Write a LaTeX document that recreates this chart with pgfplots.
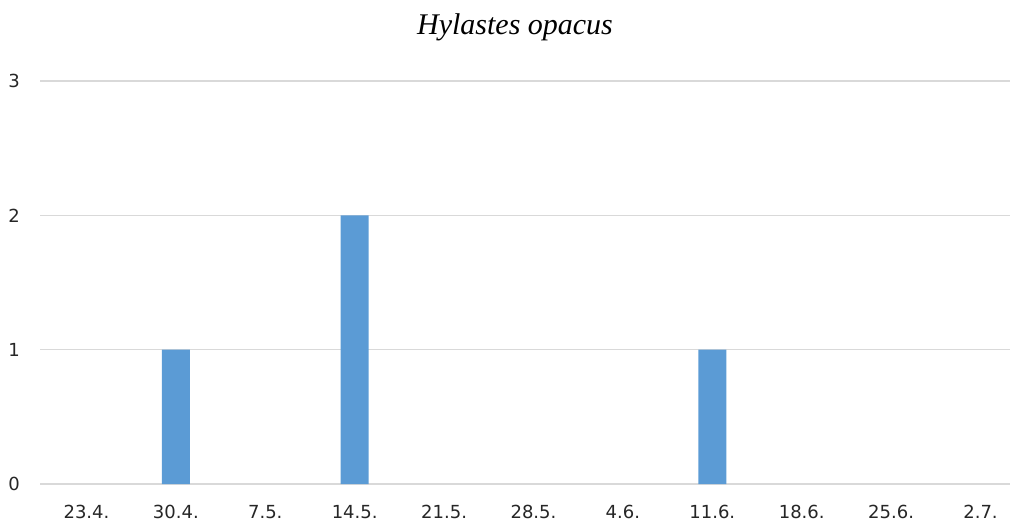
\documentclass[border=0pt]{standalone}
\usepackage{fontspec}
\setmainfont{DejaVu Sans}
\newfontfamily\titlefont{Liberation Serif}
\usepackage{pgfplots}
\pgfplotsset{compat=1.18}
\definecolor{barblue}{HTML}{5B9BD5}
\definecolor{gridgray}{HTML}{D9D9D9}
\definecolor{ticktext}{HTML}{262626}
\begin{document}
\begin{tikzpicture}
\begin{axis}[
  scale only axis,
  width=970bp, height=403bp,
  xmin=-0.52, xmax=10.33,
  ymin=0, ymax=3,
  ytick={0,1,2,3},
  xtick={0,...,10},
  xticklabels={23.4.,30.4.,7.5.,14.5.,21.5.,28.5.,4.6.,11.6.,18.6.,25.6.,2.7.},
  ymajorgrids,
  major grid style={gridgray, line width=1.3bp},
  axis line style={draw=none},
  major tick length=0pt,
  /pgf/number format/assume math mode=true,
  tick label style={font=\fontsize{18bp}{20bp}\selectfont, text=ticktext},
  x tick label style={anchor=center, yshift=-28bp},
  y tick label style={anchor=center, xshift=-26bp},
  clip=false,
]
% weekly counts; weeks with no catch are 0 and draw no bar
\addplot[ybar, bar width=28bp, bar shift=0pt, fill=barblue, draw=none]
  coordinates {(1,1) (3,2) (7,1)};
\end{axis}
\node[font=\titlefont\itshape\fontsize{30bp}{34bp}\selectfont, text=black] at (475bp,457bp) {Hylastes opacus};
\pgfresetboundingbox
\path (-40bp,-42bp) rectangle (970bp,484bp);
\end{tikzpicture}
\end{document}
